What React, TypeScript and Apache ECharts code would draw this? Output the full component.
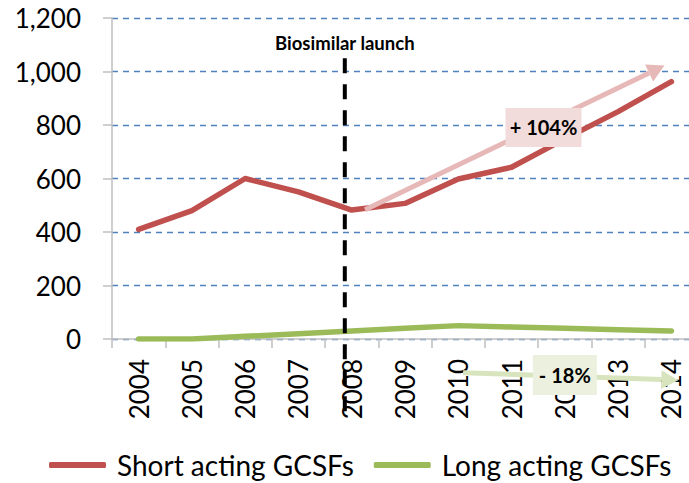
import React, { useEffect, useRef } from "react";
import * as echarts from "echarts";

const years = ["2004", "2005", "2006", "2007", "2008", "2009", "2010", "2011", "2012", "2013", "2014"];
const shortActing = [410, 480, 600, 550, 482, 507, 598, 642, 748, 850, 962];
const longActing = [0, 0, 10, 20, 30, 40, 50, 45, 40, 35, 30];
const yTicks = { min: 0, max: 1200, interval: 200 };

// annotations in data coordinates [fractional category index, value]
const launchLine = { x: 3.87, yTop: 1050, yBottom: -305, label: "Biosimilar launch", labelY: 1107 };
const shortArrow = { from: [4.25, 483], to: [9.87, 1022], label: "+ 104%", labelAt: [7.6, 791] };
const longArrow = { from: [6.09, -126], to: [10.13, -154], label: "- 18%", labelAt: [8.0, -135] };

const FONT = "Lato";

export default function App() {
  const ref = useRef<HTMLDivElement>(null);
  useEffect(() => {
    const chart = echarts.init(ref.current!, null, { renderer: "svg" });
    chart.setOption({
      animation: false,
      textStyle: { fontFamily: FONT },
      grid: { left: 112, right: 0, top: 18, bottom: 144, containLabel: false },
      legend: {
        left: 49,
        top: 451,
        padding: 0,
        itemWidth: 57,
        itemHeight: 6,
        itemGap: 20,
        icon: "roundRect",
        textStyle: { fontSize: 28, color: "#000", fontFamily: FONT, padding: [0, 0, 0, 6] },
        data: ["Short acting GCSFs", "Long acting GCSFs"],
      },
      xAxis: {
        type: "category",
        data: years,
        boundaryGap: true,
        axisLine: { lineStyle: { color: "#bfbfbf", width: 1.5 } },
        axisTick: { show: true, length: 9, lineStyle: { color: "#bfbfbf", width: 1.5 } },
        axisLabel: { rotate: 90, fontSize: 26, color: "#000", margin: 20, fontFamily: FONT },
        splitLine: { show: false },
      },
      yAxis: {
        type: "value",
        min: yTicks.min,
        max: yTicks.max,
        interval: yTicks.interval,
        axisLine: { show: true, lineStyle: { color: "#bfbfbf", width: 1.5 } },
        axisTick: { show: true, length: 9, lineStyle: { color: "#bfbfbf", width: 1.5 } },
        axisLabel: {
          fontSize: 26,
          color: "#000",
          margin: 31,
          fontFamily: FONT,
          formatter: (v: number) => v.toLocaleString("en-US"),
        },
        splitLine: { show: true, lineStyle: { color: "#4f81bd", type: [6, 5], width: 1.3 } },
      },
      series: [
        {
          name: "Short acting GCSFs",
          type: "line",
          data: shortActing,
          showSymbol: false,
          symbol: "none",
          lineStyle: { color: "#c0504d", width: 5.5, cap: "round", join: "round" },
          itemStyle: { color: "#c0504d" },
        },
        {
          name: "Long acting GCSFs",
          type: "line",
          data: longActing,
          showSymbol: false,
          symbol: "none",
          lineStyle: { color: "#9bbb59", width: 5.5, cap: "round", join: "round" },
          itemStyle: { color: "#9bbb59" },
        },
      ],
    });

    const p0 = chart.convertToPixel({ gridIndex: 0 }, [0, 0]) as number[];
    const p1 = chart.convertToPixel({ gridIndex: 0 }, [1, 0]) as number[];
    const band = p1[0] - p0[0];
    const px = (p: number[]) => {
      const q = chart.convertToPixel({ gridIndex: 0 }, [0, p[1]]) as number[];
      return [p0[0] + band * p[0], q[1]];
    };

    const arrow = (from: number[], to: number[], color: string, width: number, head: number) => {
      const a = px(from);
      const b = px(to);
      const dx = b[0] - a[0];
      const dy = b[1] - a[1];
      const len = Math.sqrt(dx * dx + dy * dy);
      const ux = dx / len;
      const uy = dy / len;
      const bx = b[0] - ux * head;
      const by = b[1] - uy * head;
      const nx = -uy * head * 0.55;
      const ny = ux * head * 0.55;
      return [
        {
          type: "line",
          shape: { x1: a[0], y1: a[1], x2: bx, y2: by },
          style: { stroke: color, lineWidth: width },
          z: 10,
        },
        {
          type: "polygon",
          shape: { points: [[b[0], b[1]], [bx + nx, by + ny], [bx - nx, by - ny]] },
          style: { fill: color },
          z: 10,
        },
      ];
    };

    const box = (at: number[], w: number, h: number, fill: string, text: string, fs: number) => {
      const c = px(at);
      return [
        {
          type: "rect",
          shape: { x: c[0] - w / 2, y: c[1] - h / 2, width: w, height: h },
          style: { fill },
          z: 11,
        },
        {
          type: "text",
          x: c[0],
          y: c[1],
          style: {
            text,
            fill: "#000",
            font: `bold ${fs}px ${FONT}`,
            align: "center",
            verticalAlign: "middle",
          },
          z: 12,
        },
      ];
    };

    const lt = px([launchLine.x, launchLine.yTop]);
    const lb = px([launchLine.x, launchLine.yBottom]);
    const ll = px([launchLine.x, launchLine.labelY]);

    chart.setOption({
      graphic: [
        {
          type: "line",
          shape: { x1: lt[0], y1: lt[1], x2: lb[0], y2: lb[1] },
          style: { stroke: "#000", lineWidth: 4, lineDash: [15, 11] },
          z: 20,
        },
        {
          type: "text",
          x: ll[0],
          y: ll[1],
          style: {
            text: launchLine.label,
            fill: "#000",
            font: `bold 18.5px ${FONT}`,
            align: "center",
            verticalAlign: "middle",
          },
          z: 20,
        },
        ...arrow(shortArrow.from, shortArrow.to, "#e6b9b8", 5, 17),
        ...box(shortArrow.labelAt, 76, 39, "#f2dcdb", shortArrow.label, 20),
        ...arrow(longArrow.from, longArrow.to, "#d7e4bd", 5, 17),
        ...box(longArrow.labelAt, 64, 40, "#ebf1de", longArrow.label, 20),
      ],
    });

    return () => chart.dispose();
  }, []);

  return (
    <div
      ref={ref}
      style={{ position: "fixed", left: 0, top: 0, width: 698, height: 483, background: "#fff" }}
    />
  );
}
